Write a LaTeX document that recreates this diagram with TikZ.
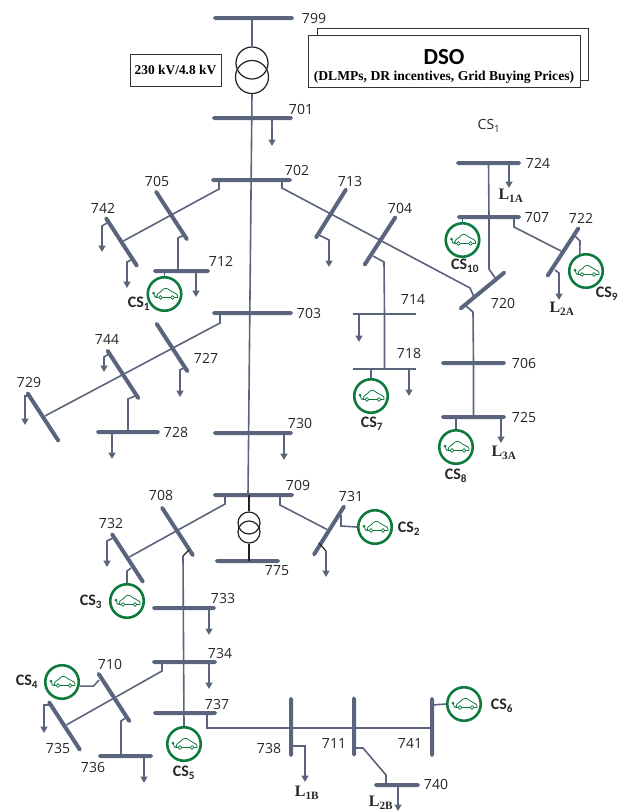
\documentclass[tikz,border=0pt]{standalone}
\usepackage{fontspec}
\usetikzlibrary{arrows.meta,positioning,calc}
\newfontfamily\numfont{Open Sans}
\newfontfamily\csfont{Carlito}
\newfontfamily\serfont{Liberation Serif}
\definecolor{busgray}{HTML}{5A647C}
\definecolor{csgreen}{HTML}{0F7A3E}
\definecolor{xfmrblack}{HTML}{222222}
\tikzset{
  hbus/.style={rectangle,fill=busgray,rounded corners=1.8pt,
    minimum width=#1,minimum height=4pt,inner sep=0pt},
  thinbus/.style={rectangle,fill=busgray,
    minimum width=#1,minimum height=1.7pt,inner sep=0pt},
  vbus/.style={hbus=60pt,rotate=90},
  dbus/.style={hbus=60pt,rotate=-57},
  abus/.style={hbus=60pt,rotate=#1},
  xfmr/.style={circle,draw=xfmrblack,line width=1.2pt,minimum size=#1,inner sep=0pt},
  csring/.style={circle,draw=csgreen,line width=2.6pt,minimum size=33.5pt,inner sep=0pt},
  buslbl/.style={font=\numfont\fontsize{14}{16}\selectfont,text=black!85,inner sep=0pt},
  cslbl/.style={font=\csfont\bfseries\fontsize{16}{18}\selectfont,text=black!85,inner sep=0pt},
  loadlbl/.style={font=\serfont\bfseries\fontsize{16}{18}\selectfont,text=black!85,inner sep=0pt},
  feeder/.style={draw=busgray,line width=1.6pt},
  loadarrow/.style={feeder,-{Triangle[width=7pt,length=6.5pt]}},
  darkline/.style={draw=xfmrblack,line width=1.2pt},
  dsobox/.style={rectangle,draw=black!80,line width=1pt,fill=white,
    minimum width=272pt,minimum height=52pt,align=center,inner sep=0pt},
  pics/evcar/.style={code={
    \draw[csgreen,line width=.8pt] (-8,3.5) .. controls (-8,0) and (-6,-1) .. (-3.5,-2.5)
      .. controls (-1,-6.5) and (3,-6.5) .. (5.5,-3.5) .. controls (8,-1.5) and (12,-1) .. (13,1.5)
      -- (13,3.5) -- (10,3.5) (6,3.5) -- (-2,3.5) (-6,3.5) -- (-8,3.5);
    \draw[csgreen,line width=.8pt] (-4,3.5) circle (1.9) (8,3.5) circle (1.9);
    \draw[csgreen,line width=.8pt] (-10.5,0) .. controls (-10,4) and (-8,4.5) .. (-7,1.5);
    \fill[csgreen] (-11,-1) circle (1.5);
  }},
}
\begin{document}
\begin{tikzpicture}[x=1pt,y=-1pt]
  \useasboundingbox (0,0) rectangle (626,812);
  % buses
  \node[hbus=81pt] (b799) at (253.5,18) {};
  \node[hbus=81pt] (b701) at (252.5,118) {};
  \node[hbus=81pt] (b702) at (251.5,180) {};
  \node[hbus=81pt] (b703) at (252.5,313) {};
  \node[hbus=80pt] (b730) at (253,433) {};
  \node[hbus=81pt] (b709) at (253.5,495) {};
  \node[hbus=65pt] (b775) at (247.5,561) {};
  \node[hbus=57pt] (b712) at (181.5,271) {};
  \node[hbus=64pt] (b728) at (128,432) {};
  \node[hbus=65pt] (b724) at (488.5,163) {};
  \node[hbus=64pt] (b707) at (489,217) {};
  \node[hbus=65pt] (b706) at (473.5,363) {};
  \node[hbus=65pt] (b725) at (473.5,417) {};
  \node[hbus=64pt] (b733) at (184,608) {};
  \node[hbus=65pt] (b734) at (184.5,662) {};
  \node[hbus=64pt] (b737) at (185,713) {};
  \node[hbus=55pt] (b736) at (125.5,756) {};
  \node[hbus=46pt] (b740) at (397,785) {};
  \node[thinbus=63pt] (b714) at (384.5,314) {};
  \node[thinbus=63pt] (b718) at (384.5,369) {};
  \node[vbus] (b738) at (291,727) {};
  \node[vbus] (b711) at (354,726.5) {};
  \node[vbus] (b741) at (432,727) {};
  \node[dbus] (b705) at (171.5,215.5) {};
  \node[dbus] (b742) at (121.5,242) {};
  \node[dbus] (b727) at (172,347.5) {};
  \node[dbus] (b744) at (123,374.5) {};
  \node[dbus] (b729) at (43,417) {};
  \node[dbus] (b708) at (177.5,531.5) {};
  \node[dbus] (b732) at (127.5,558) {};
  \node[dbus] (b710) at (114,697.5) {};
  \node[dbus] (b735) at (64.5,726) {};
  \node[abus=58] (b713) at (331,213.5) {};
  \node[abus=57] (b704) at (380,241) {};
  \node[abus=57] (b722) at (563,252) {};
  \node[abus=39.4] (b720) at (482.5,290.5) {};
  \node[abus=58] (b731) at (329,530.5) {};
  % transformers and boxes
  \node[xfmr=32pt] (xa) at (252,63) {};
  \node[xfmr=33pt] (xb) at (252,77) {};
  \node[xfmr=22pt] (ya) at (249,523) {};
  \node[xfmr=22pt] (yb) at (249,532) {};
  \node[rectangle,draw=black!80,minimum width=91pt,minimum height=32pt,inner sep=0pt,
    font=\serfont\bfseries\fontsize{13.4}{15}\selectfont] (ratio) at (175.5,70) {230 kV/4.8 kV};
  \node[dsobox,minimum width=271pt] (dsoback) at (452.5,54) {};
  \node[dsobox] (dso) at (444,61) {\rule{0pt}{25pt}{\csfont\bfseries\fontsize{23}{24}\selectfont DSO}\\[4pt]
    {\serfont\bfseries\fontsize{13.6}{15}\selectfont (DLMPs, DR incentives, Grid Buying Prices)}};
  % charging stations
  \node[csring] (cs1) at (164.5,294) {};
  \node[csring] (cs2) at (375,527) {};
  \node[csring] (cs3) at (127,601) {};
  \node[csring] (cs4) at (62,682) {};
  \node[csring] (cs5) at (184,744) {};
  \node[csring] (cs6) at (464,704) {};
  \node[csring] (cs7) at (371,396) {};
  \node[csring] (cs8) at (456,447) {};
  \node[csring] (cs9) at (586,271) {};
  \node[csring] (cs10) at (462.5,240) {};
  \pic at (cs1) {evcar};
  \pic at (cs2) {evcar};
  \pic at (cs3) {evcar};
  \pic at (cs4) {evcar};
  \pic at (cs5) {evcar};
  \pic at (cs6) {evcar};
  \pic at (cs7) {evcar};
  \pic at (cs8) {evcar};
  \pic at (cs9) {evcar};
  \pic at (cs10) {evcar};
  % main feeder
  \draw[feeder] (xa |- b799) -- (xa.north);
  \draw[feeder] (xb.south) -- ([xshift=-5.5pt]b709.center);
  \draw[darkline] (ya |- b709) -- (ya.north);
  \draw[darkline] (yb.south) -- (yb |- b775);
  \draw[loadarrow] ([xshift=19.5pt]b701.center) -- ++(0,28);
  \draw[loadarrow] ([xshift=31pt]b730.center) -- ++(0,27);
  % left of 702
  \draw[feeder] ([xshift=-32.5pt]b702.center) -- ++(0,9) -- (b742);
  \draw[feeder] ([shift={(12.5,19.5)}]b705.center) -- ++(-6,3) -- ([xshift=-3.5pt]b712.center);
  \draw[loadarrow] ([shift={(-14.5,-19)}]b742.center) -- ++(-5,3) -- ++(0,26);
  \draw[loadarrow] ([shift={(9.5,18)}]b742.center) -- ++(-4,2) -- ++(0,26);
  \draw[loadarrow] ([xshift=14.5pt]b712.center) -- ++(0,26);
  \draw[feeder] (cs1 |- b712) -- (cs1.north);
  % left of 703
  \draw[feeder] ([xshift=-32.5pt]b703.center) -- ++(0,10) -- (b729);
  \draw[loadarrow] ([shift={(12,20.5)}]b727.center) -- ++(-4,2) -- ++(0,27);
  \draw[loadarrow] ([shift={(-14,-20.5)}]b744.center) -- ++(-5,3) -- ++(0,15);
  \draw[feeder] ([shift={(12,21.5)}]b744.center) -- ++(-7,3) -- (b728);
  \draw[loadarrow] ([shift={(-15,-21)}]b729.center) -- ++(-3,0) -- ++(0,29);
  \draw[loadarrow] ([xshift=-16pt]b728.center) -- ++(0,27);
  % right of 702
  \draw[feeder] ([xshift=30.5pt]b702.center) -- ++(0,8) -- ([shift={(-12.5,-2.5)}]b720.center)
    -- ([shift={(-8.5,6.5)}]b720.center);
  \draw[loadarrow] ([shift={(-12,21.5)}]b713.center) -- ++(10,5) -- ++(0,27);
  \draw[feeder] ([shift={(-7,15)}]b704.center) -- ++(11,6) -- (b714) -- (b718);
  \draw[loadarrow] ([xshift=-25.5pt]b714.center) -- ++(0,28);
  \draw[loadarrow] ([xshift=24.5pt]b718.center) -- ++(0,27);
  \draw[feeder] (cs7 |- b718) -- (cs7.north);
  % branch 720 to 725
  \draw[feeder] ([shift={(-16.5,15.5)}]b720.center) -- ++(7,6) -- (b706) -- (b725);
  \draw[loadarrow] ([xshift=27.5pt]b725.center) -- ++(0,26);
  \draw[feeder] (cs8 |- b725) -- (cs8.north);
  % branch 724, 707, 722
  \draw[feeder] (b724) -- (b707) -- ([shift={(6.5,-21.5)}]b720.center) -- ([shift={(13.5,-11.5)}]b720.center);
  \draw[loadarrow] ([xshift=20.5pt]b724.center) -- ++(0,25);
  \draw[feeder] (cs10 |- b707) -- (cs10.north);
  \draw[feeder] ([xshift=25pt]b707.center) -- ++(0,10) -- (b722);
  \draw[feeder] ([shift={(12,-16)}]b722.center) -- ++(5,5) -- (cs9.110);
  \draw[loadarrow] ([shift={(-8,18)}]b722.center) -- ++(4,3) -- ++(0,27);
  % below 709
  \draw[feeder] ([xshift=-28.5pt]b709.center) -- ++(0,9) -- (b732);
  \draw[feeder] ([xshift=26.5pt]b709.center) -- ++(0,10) -- (b731);
  \draw[darkline] ([shift={(11.5,18.5)}]b708.center) -- ++(-6,6);
  \draw[feeder] ([shift={(5.5,24.5)}]b708.center) -- (cs5.north);
  \draw[loadarrow] ([shift={(-14.5,-20)}]b732.center) -- ++(-6,3) -- ++(0,26);
  \draw[feeder] ([shift={(3.5,10)}]b732.center) -- ++(-4,3) -- (cs3.north);
  \draw[darkline] ([shift={(-10,12.5)}]b731.center) -- ++(7,8);
  \draw[loadarrow] ([shift={(-3,20.5)}]b731.center) -- ++(0,26);
  \draw[feeder] ([shift={(12,-15.5)}]b731.center) -- ++(0,11) -- (cs2.west);
  \draw[loadarrow] ([xshift=25pt]b733.center) -- ++(0,27);
  \draw[loadarrow] ([xshift=24.5pt]b734.center) -- ++(0,27);
  \draw[feeder] ([xshift=-22.5pt]b734.center) -- ++(0,9) -- (b735);
  \draw[feeder] ([shift={(13,19.5)}]b710.center) -- ++(-6,4) -- ([xshift=-4.5pt]b736.center);
  \draw[feeder] (cs4.-13) -- ++(14,0) -- ([shift={(-15,-17.5)}]b710.center);
  \draw[loadarrow] ([shift={(-15.5,-21)}]b735.center) -- ++(-5,0) -- ++(0,28);
  \draw[loadarrow] ([xshift=18.5pt]b736.center) -- ++(0,27);
  % branch 737 to 741
  \draw[feeder] ([xshift=22pt]b737.center) |- ([shift={(0,1)}]b741.center);
  \draw[loadarrow] ([shift={(0,19)}]b738.center) -- ++(14,0) -- ++(0,36);
  \draw[feeder] ([shift={(0,21.5)}]b711.center) -- ++(9,0) -- ++(23,27) -- ([xshift=-11pt]b740.center);
  \draw[loadarrow] ([xshift=1pt]b740.center) -- ++(0,26);
  \draw[feeder] ([shift={(0,-22)}]b741.center) -- (cs6.west);
  % bus names
  \node[buslbl] (n799) at (314,18) {799};
  \node[buslbl] (n701) at (301,109) {701};
  \node[buslbl] (n702) at (297,170) {702};
  \node[buslbl] (n703) at (309,313) {703};
  \node[buslbl] (n705) at (157,181) {705};
  \node[buslbl] (n742) at (103,208) {742};
  \node[buslbl] (n712) at (221,261) {712};
  \node[buslbl] (n713) at (350,181) {713};
  \node[buslbl] (n704) at (400,208) {704};
  \node[buslbl] (n714) at (413,299) {714};
  \node[buslbl] (n718) at (409,353) {718};
  \node[buslbl] (n724) at (538,163) {724};
  \node[buslbl] (n707) at (537,217) {707};
  \node[buslbl] (n722) at (581,218) {722};
  \node[buslbl] (n720) at (503,303) {720};
  \node[buslbl] (n706) at (524,363) {706};
  \node[buslbl] (n725) at (524,417) {725};
  \node[buslbl] (n727) at (206,358) {727};
  \node[buslbl] (n744) at (107,339) {744};
  \node[buslbl] (n729) at (29,382) {729};
  \node[buslbl] (n728) at (176,432) {728};
  \node[buslbl] (n730) at (300,423) {730};
  \node[buslbl] (n709) at (298,485) {709};
  \node[buslbl] (n708) at (161,495) {708};
  \node[buslbl] (n732) at (111,523) {732};
  \node[buslbl] (n731) at (351,496) {731};
  \node[buslbl] (n775) at (277,571) {775};
  \node[buslbl] (n733) at (223,598) {733};
  \node[buslbl] (n734) at (220,653) {734};
  \node[buslbl] (n710) at (110,664) {710};
  \node[buslbl] (n737) at (217,704) {737};
  \node[buslbl] (n735) at (58,748) {735};
  \node[buslbl] (n736) at (93,767) {736};
  \node[buslbl] (n738) at (269,748) {738};
  \node[buslbl] (n711) at (334,743) {711};
  \node[buslbl] (n741) at (410,743) {741};
  \node[buslbl] (n740) at (436,784) {740};
  \node[buslbl] (ncs) at (489,126) {CS\textsubscript{1}};
  % station names
  \node[cslbl] (t1) at (139,304) {CS\textsubscript{1}};
  \node[cslbl] (t2) at (409,529) {CS\textsubscript{2}};
  \node[cslbl] (t3) at (91,602) {CS\textsubscript{3}};
  \node[cslbl] (t4) at (27,682) {CS\textsubscript{4}};
  \node[cslbl] (t5) at (184,773) {CS\textsubscript{5}};
  \node[cslbl] (t6) at (502,706) {CS\textsubscript{6}};
  \node[cslbl] (t7) at (372,424) {CS\textsubscript{7}};
  \node[cslbl] (t8) at (456,476) {CS\textsubscript{8}};
  \node[cslbl] (t9) at (607,294) {CS\textsubscript{9}};
  \node[cslbl] (t10) at (465,266) {CS\textsubscript{10}};
  % load names
  \node[loadlbl] (l1a) at (511,196) {L\textsubscript{1A}};
  \node[loadlbl] (l2a) at (562,309) {L\textsubscript{2A}};
  \node[loadlbl] (l3a) at (504,453) {L\textsubscript{3A}};
  \node[loadlbl] (l1b) at (307,793) {L\textsubscript{1B}};
  \node[loadlbl] (l2b) at (381,802.5) {L\textsubscript{2B}};
\end{tikzpicture}
\end{document}
